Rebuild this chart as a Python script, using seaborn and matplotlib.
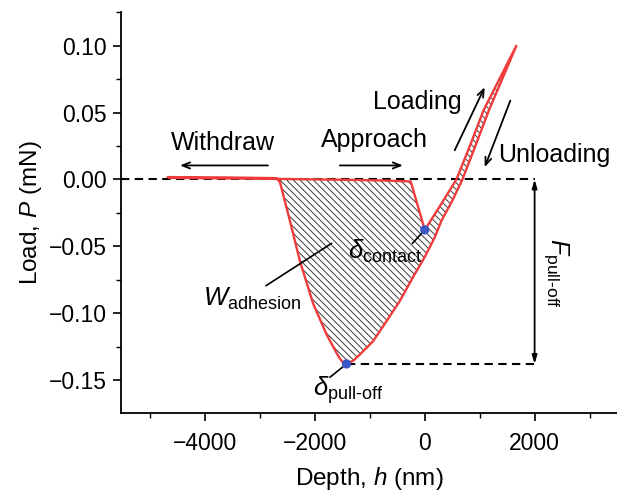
import numpy as np
import pandas as pd
import matplotlib
matplotlib.use("Agg")
import matplotlib.pyplot as plt
import seaborn as sns

# ---------------- data ----------------
approach_h = [-4650, -3600, -2636, -1500, -700, -255]
approach_P = [0.0012, 0.0008, 0.0004, -0.0002, -0.0008, -0.0015]

loading_h = [0, 290, 576, 830, 1073, 1370, 1667]
loading_P = [-0.0377, -0.019, 0.0, 0.026, 0.052, 0.076, 0.100]

unloading_h = [1667, 1420, 1170, 930, 685, 500, 304, 182, 0, -213, -455, -696,
               -940, -1182, -1300, -1424, -1500, -1576, -1787, -2031, -2273,
               -2454, -2636]
unloading_P = [0.100, 0.076, 0.052, 0.026, 0.0, -0.016, -0.0308, -0.0433, -0.058,
               -0.073, -0.091, -0.106, -0.121, -0.131, -0.1355, -0.138, -0.1365,
               -0.132, -0.116, -0.093, -0.061, -0.031, -0.002]

withdraw_h = [-2636, -2700, -3600, -4680]
withdraw_P = [-0.002, 0.0010, 0.0015, 0.0018]

contact_h, contact_P = 0, -0.0377
pulloff_h, pulloff_P = -1424, -0.138

xticks = [-4000, -2000, 0, 2000]
yticks = [-0.15, -0.10, -0.05, 0.00, 0.05, 0.10]

# ---------------- style ----------------
sns.set_style("ticks")
plt.rcParams["font.family"] = ["Liberation Sans", "DejaVu Sans"]
plt.rcParams["mathtext.fontset"] = "custom"
plt.rcParams["mathtext.rm"] = "Liberation Sans"
plt.rcParams["mathtext.it"] = "Liberation Sans:italic"
plt.rcParams["hatch.linewidth"] = 0.7
plt.rcParams["hatch.color"] = "#3a3a3a"
plt.rcParams["text.color"] = "black"
plt.rcParams["axes.labelcolor"] = "black"

RED = "#ef3b3b"
BLUE = "#3b57c4"

fig = plt.figure(figsize=(6.17, 4.94), dpi=100)
ax = fig.add_axes([0.1961, 0.164, 0.8039, 0.8117])

# full path
path_h = approach_h + loading_h + unloading_h[1:] + withdraw_h[1:]
path_P = approach_P + loading_P + unloading_P[1:] + withdraw_P[1:]
df = pd.DataFrame({"h": path_h, "P": path_P})

# hatched adhesion loop
fill_h = [h for h in approach_h if h >= unloading_h[-1]] + loading_h + unloading_h[1:]
fill_P = [p for h, p in zip(approach_h, approach_P) if h >= unloading_h[-1]] + loading_P + unloading_P[1:]
ax.fill(fill_h, fill_P, facecolor="none", edgecolor="#3a3a3a", hatch="\\" * 5,
        linewidth=0, zorder=1)

sns.lineplot(data=df, x="h", y="P", sort=False, estimator=None, color=RED,
             linewidth=1.7, ax=ax, zorder=3)

pts = pd.DataFrame({"h": [contact_h, pulloff_h], "P": [contact_P, pulloff_P]})
sns.scatterplot(data=pts, x="h", y="P", color=BLUE, s=45, edgecolor="none",
                ax=ax, zorder=5)

# dashed reference lines
xlim = (-5530, 3500)
ylim = (-0.1747, 0.1253)
dash = (0, (4.0, 2.6))
ax.plot([xlim[0], 2000], [0, 0], color="black", lw=1.5, ls=dash, zorder=2)
ax.plot([pulloff_h, 2000], [pulloff_P, pulloff_P], color="black", lw=1.5,
        ls=dash, zorder=2)

# pull-off force arrow
ax.annotate("", xy=(2000, pulloff_P), xytext=(2000, 0),
            arrowprops=dict(arrowstyle="<|-|>,head_length=0.5,head_width=0.15",
                            color="black", lw=1.3, shrinkA=0, shrinkB=0))
ax.text(2309, -0.0698, r"$F_{\mathrm{pull\text{-}off}}$", rotation=-90,
        rotation_mode="anchor", ha="center", va="baseline", fontsize=18)

arrow_kw = dict(arrowstyle="->,head_length=0.55,head_width=0.22", color="black",
                lw=1.3, shrinkA=0, shrinkB=0)
# withdraw / approach arrows
ax.annotate("", xy=(-4455, 0.0105), xytext=(-2855, 0.0105), arrowprops=arrow_kw)
ax.annotate("", xy=(-400, 0.0105), xytext=(-1545, 0.0105), arrowprops=arrow_kw)
# loading / unloading arrows
ax.annotate("", xy=(1091, 0.069), xytext=(545, 0.0218), arrowprops=arrow_kw)
ax.annotate("", xy=(1091, 0.0092), xytext=(1558, 0.059), arrowprops=arrow_kw)

ax.text(-3682, 0.0223, "Withdraw", ha="center", va="baseline", fontsize=18)
ax.text(-909, 0.0242, "Approach", ha="center", va="baseline", fontsize=18)
ax.text(-127, 0.0525, "Loading", ha="center", va="baseline", fontsize=18)
ax.text(2355, 0.013, "Unloading", ha="center", va="baseline", fontsize=18)

# W adhesion label
ax.plot([-2891, -1696], [-0.0795, -0.0478], color="black", lw=1.2, zorder=4)
ax.text(-4036, -0.0945, r"$W_{\mathrm{adhesion}}$", ha="left", va="baseline", fontsize=18.5)

# delta contact
ax.plot([-224, contact_h], [-0.0478, contact_P], color="black", lw=1.2, zorder=4)
ax.text(-1394, -0.0595, r"$\delta_{\mathrm{contact}}$", ha="left", va="baseline", fontsize=18.5)

# delta pull-off
ax.plot([-1727, pulloff_h], [-0.148, pulloff_P], color="black", lw=1.2, zorder=4)
ax.text(-2030, -0.162, r"$\delta_{\mathrm{pull\text{-}off}}$", ha="left", va="baseline", fontsize=18.5)

# axes
ax.set_xlim(*xlim)
ax.set_ylim(*ylim)
ax.set_xticks(xticks)
ax.set_yticks(yticks)
ax.set_xticklabels(["\u22124000", "\u22122000", "0", "2000"])
ax.set_yticklabels(["\u22120.15", "\u22120.10", "\u22120.05", "0.00", "0.05", "0.10"])
ax.xaxis.set_minor_locator(matplotlib.ticker.MultipleLocator(1000))
ax.yaxis.set_minor_locator(matplotlib.ticker.MultipleLocator(0.025))
ax.tick_params(which="major", direction="out", length=6, width=1.2, labelsize=16.5,
               color="black", labelcolor="black", pad=4)
ax.tick_params(which="minor", direction="out", length=3.5, width=1.0, color="black")
ax.tick_params(axis="x", which="major", pad=8)
ax.set_xlabel(r"Depth, $h$ (nm)", fontsize=17.5, labelpad=7, color="black")
ax.set_ylabel(r"Load, $P$ (mN)", fontsize=17.5, labelpad=4, color="black")
sns.despine(ax=ax)
for s in ["left", "bottom"]:
    ax.spines[s].set_linewidth(1.3)
    ax.spines[s].set_color("black")

fig.savefig("out.png", dpi=100)
